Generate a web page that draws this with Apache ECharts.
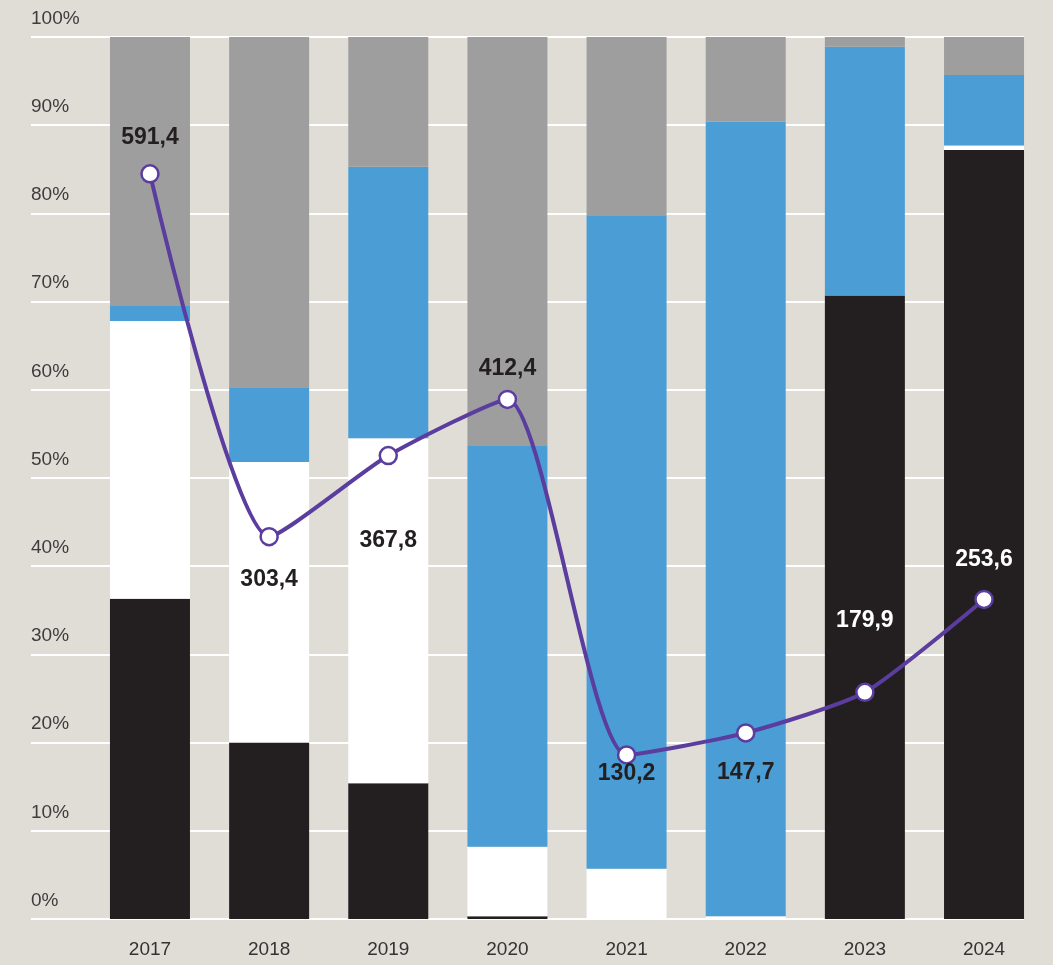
<!DOCTYPE html>
<html><head><meta charset="utf-8">
<script src="https://cdn.jsdelivr.net/npm/echarts@6/dist/echarts.min.js"></script>
<style>html,body{margin:0;padding:0;background:#e0dcd6;}#c{width:1053px;height:965px;}</style>
</head><body><div id="c"></div>
<script>
const years = ['2017','2018','2019','2020','2021','2022','2023','2024'];
const blackShare = [36.3, 20.0, 15.4, 0.3, 0, 0, 70.7, 87.2];
const whiteShare = [31.5, 31.8, 39.1, 7.9, 5.7, 0.3, 0, 0.5];
const blueShare  = [1.7, 8.5, 30.8, 45.5, 74.0, 90.1, 28.2, 8.0];
const grayShare  = [30.5, 39.7, 14.7, 46.3, 20.3, 9.6, 1.1, 4.3];
const totals = [591.4, 303.4, 367.8, 412.4, 130.2, 147.7, 179.9, 253.6];
const pctTicks = [0,10,20,30,40,50,60,70,80,90,100];

// label styling per point (offset from point, colour)
const labelDy = [-36, 43, 85, -31, 19, 40, -72, -40];
const labelColor = ['#231f20','#231f20','#231f20','#231f20','#231f20','#231f20','#ffffff','#ffffff'];

const chart = echarts.init(document.getElementById('c'));
const barBase = {type:'bar', stack:'s', xAxisIndex:1, yAxisIndex:1, barWidth:80};
chart.setOption({
  backgroundColor:'#e0dcd6',
  animation:false,
  grid:[
    {left:31, right:29, top:37, bottom:46},
    {left:90.4, right:9.4, top:37, bottom:46}
  ],
  xAxis:[
    {gridIndex:0, type:'value', show:false, min:0, max:1},
    {gridIndex:1, type:'category', data:years, axisLine:{show:false}, axisTick:{show:false},
     axisLabel:{margin:21, fontSize:19, color:'#333', fontFamily:'Liberation Sans'}}
  ],
  yAxis:[
    {gridIndex:0, type:'value', min:0, max:100, interval:10,
     axisLine:{show:false}, axisTick:{show:false},
     splitLine:{show:true, lineStyle:{color:'#ffffff', width:2}},
     axisLabel:{inside:true, margin:0, verticalAlign:'bottom', padding:[0,0,9,0],
       fontSize:19, color:'#3d3d3d', fontFamily:'Liberation Sans',
       formatter: v => pctTicks.includes(v) ? v + '%' : ''}},
    {gridIndex:1, type:'value', min:0, max:100, show:false},
    {gridIndex:1, type:'value', min:0, max:700, show:false}
  ],
  series:[
    Object.assign({}, barBase, {name:'black', data:blackShare, itemStyle:{color:'#231f20'}}),
    Object.assign({}, barBase, {name:'white', data:whiteShare, itemStyle:{color:'#ffffff'}}),
    Object.assign({}, barBase, {name:'blue', data:blueShare, itemStyle:{color:'#4b9ed5'}}),
    Object.assign({}, barBase, {name:'gray', data:grayShare, itemStyle:{color:'#9e9e9e'}}),
    {type:'line', xAxisIndex:1, yAxisIndex:2, z:5, smooth:0.2,
     symbol:'circle', symbolSize:17,
     lineStyle:{color:'#5a3d9e', width:4},
     itemStyle:{color:'#ffffff', borderColor:'#5a3d9e', borderWidth:2.5},
     data: totals.map((v,i)=>({value:v, label:{show:true, position:'inside', offset:[0,labelDy[i]],
        color:labelColor[i]}})),
     label:{show:true, fontSize:23, fontWeight:'bold', fontFamily:'Liberation Sans, sans-serif',
        formatter: p => p.value.toFixed(1).replace('.', ',')}
    }
  ]
});
</script></body></html>
